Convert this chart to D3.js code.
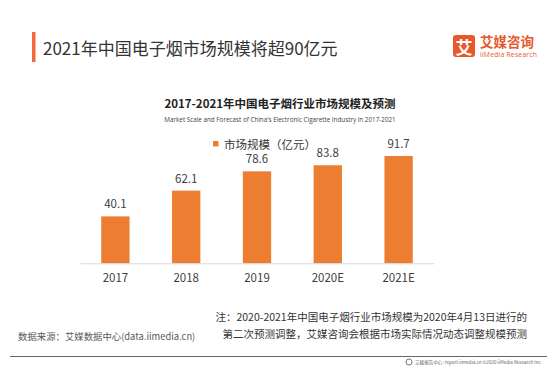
<!DOCTYPE html>
<html>
<head>
<meta charset="utf-8">
<script src="https://cdn.jsdelivr.net/npm/d3@7"></script>
<style>
  body { margin: 0; background: #fff; }
  svg { display: block; font-family: "Noto Sans CJK SC", "Noto Sans", sans-serif; }
</style>
</head>
<body>
<svg id="chart" width="554" height="369"></svg>
<script>
const categories = ['2017', '2018', '2019', '2020E', '2021E'];
const values = [40.1, 62.1, 78.6, 83.8, 91.7];
const seriesName = '市场规模（亿元）';
const noteLines = [
    '注：2020-2021年中国电子烟行业市场规模为2020年4月13日进行的',
    '第二次预测调整，艾媒咨询会根据市场实际情况动态调整规模预测'
];

const svg = d3.select('#chart');

// page header
svg.append('rect').attr('x', 32).attr('y', 32).attr('width', 3.5).attr('height', 30).attr('fill', '#f26a3d');
svg.append('text').attr('x', 43).attr('y', 47).attr('dominant-baseline', 'central')
    .attr('font-size', 17).attr('fill', '#333').text('2021年中国电子烟市场规模将超90亿元');

// logo
const logo = svg.append('g');
logo.append('rect').attr('x', 453).attr('y', 35).attr('width', 22).attr('height', 22).attr('rx', 3).attr('fill', '#e8582c');
logo.append('text').attr('x', 464).attr('y', 46.5).attr('text-anchor', 'middle').attr('dominant-baseline', 'central')
    .attr('font-size', 17).attr('font-weight', 'bold').attr('fill', '#fff').text('艾');
logo.append('text').attr('x', 480).attr('y', 41).attr('dominant-baseline', 'central')
    .attr('font-size', 13.5).attr('font-weight', 'bold').attr('fill', '#e8582c').text('艾媒咨询');
logo.append('text').attr('x', 480).attr('y', 54.5).attr('dominant-baseline', 'central')
    .attr('font-size', 6.8).attr('fill', '#e8582c').attr('font-family', 'Open Sans')
    .attr('textLength', 57).text('iiMedia Research');

// chart titles
svg.append('text').attr('x', 280).attr('y', 103).attr('text-anchor', 'middle').attr('dominant-baseline', 'central')
    .attr('font-size', 11.5).attr('font-weight', 'bold').attr('fill', '#222').text('2017-2021年中国电子烟行业市场规模及预测');
svg.append('text').attr('x', 280).attr('y', 119).attr('text-anchor', 'middle').attr('dominant-baseline', 'central')
    .attr('font-size', 6.3).attr('fill', '#444').attr('font-family', 'Open Sans')
    .text("Market Scale and Forecast of China's Electronic Cigarette Industry in 2017-2021");

// legend
svg.append('rect').attr('x', 213).attr('y', 141).attr('width', 5.5).attr('height', 5.5).attr('fill', '#ed7d31');
svg.append('text').attr('x', 224).attr('y', 143.5).attr('dominant-baseline', 'central')
    .attr('font-size', 11.5).attr('fill', '#333').text(seriesName);

const x = d3.scaleBand().domain(categories).range([80, 434]).paddingInner(0.6).paddingOuter(0.3);
const y = d3.scaleLinear().domain([0, 100]).range([263.3, 146.3]);

svg.selectAll('.bar').data(values).join('rect').classed('bar', true)
    .attr('x', (_, i) => x(categories[i]))
    .attr('width', x.bandwidth())
    .attr('y', d => y(d))
    .attr('height', d => y(0) - y(d))
    .attr('fill', '#ed7d31');

svg.selectAll('.value').data(values).join('text').classed('value', true)
    .attr('x', (_, i) => x(categories[i]) + x.bandwidth() / 2)
    .attr('y', d => y(d) - 13)
    .attr('text-anchor', 'middle').attr('dominant-baseline', 'central')
    .attr('font-size', 11.5).attr('fill', '#404040')
    .text(d => d.toFixed(1));

const axis = svg.append('g').attr('transform', `translate(0, ${y(0)})`)
    .call(d3.axisBottom(x).tickSize(0).tickPadding(11));
axis.select('.domain').attr('stroke', '#d9d9d9');
axis.selectAll('text').attr('font-size', 11.5).attr('fill', '#404040').attr('font-family', '"Noto Sans CJK SC"');

// notes & footer
svg.selectAll('.note').data(noteLines).join('text').classed('note', true)
    .attr('x', 527).attr('y', (_, i) => 316.5 + i * 16.5)
    .attr('text-anchor', 'end').attr('dominant-baseline', 'central')
    .attr('font-size', 10.5).attr('fill', '#333').text(d => d);

svg.append('text').attr('x', 18).attr('y', 336).attr('dominant-baseline', 'central')
    .attr('font-size', 9.4).attr('fill', '#595959').text('数据来源：艾媒数据中心(data.iimedia.cn)');

svg.append('line').attr('x1', 10).attr('x2', 547).attr('y1', 356.5).attr('y2', 356.5)
    .attr('stroke', '#666').attr('stroke-width', 1);

svg.append('circle').attr('cx', 409).attr('cy', 362).attr('r', 3).attr('fill', 'none').attr('stroke', '#777').attr('stroke-width', 1);
const footer = svg.append('text').attr('x', 415).attr('y', 362).attr('dominant-baseline', 'central')
    .attr('font-size', 10).attr('fill', '#666')
    .text('艾媒报告中心: report.iimedia.cn  ©2020  iiMedia Research Inc');
// shrink font so the line ends near the right margin
const natural = footer.node().getComputedTextLength();
footer.attr('font-size', 10 * 126 / natural);
</script>
</body>
</html>
